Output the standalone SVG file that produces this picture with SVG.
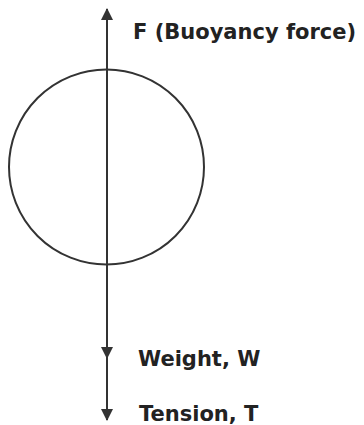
<svg xmlns="http://www.w3.org/2000/svg" width="364" height="425" viewBox="0 0 364 425">
<style>
.lbl{font-family:"DejaVu Sans","Verdana",sans-serif;font-weight:bold;font-size:21px;fill:#222}
.ln{stroke:#333;stroke-width:2;fill:none}
</style>
<defs>
<marker id="ah" markerWidth="12" markerHeight="12" refX="11" refY="6" orient="auto" markerUnits="userSpaceOnUse">
<path d="M0,0 L12,6 L0,12 Z" fill="#333"/>
</marker>
</defs>
<rect width="364" height="425" fill="#fff"/>
<g id="ball"><circle cx="106.5" cy="167" r="97.5" class="ln"/></g>
<g id="connectors">
<line x1="107" y1="168" x2="107" y2="9" class="ln" marker-end="url(#ah)"/>
<line x1="107" y1="168" x2="107" y2="358" class="ln" marker-end="url(#ah)"/>
<line x1="107" y1="358" x2="107" y2="420" class="ln" marker-end="url(#ah)"/>
</g>
<g id="label-f"><text x="133" y="39" class="lbl">F (Buoyancy force)</text></g>
<g id="label-w"><text x="138" y="366" class="lbl">Weight, W</text></g>
<g id="label-t"><text x="139" y="421" class="lbl">Tension, T</text></g>
</svg>
